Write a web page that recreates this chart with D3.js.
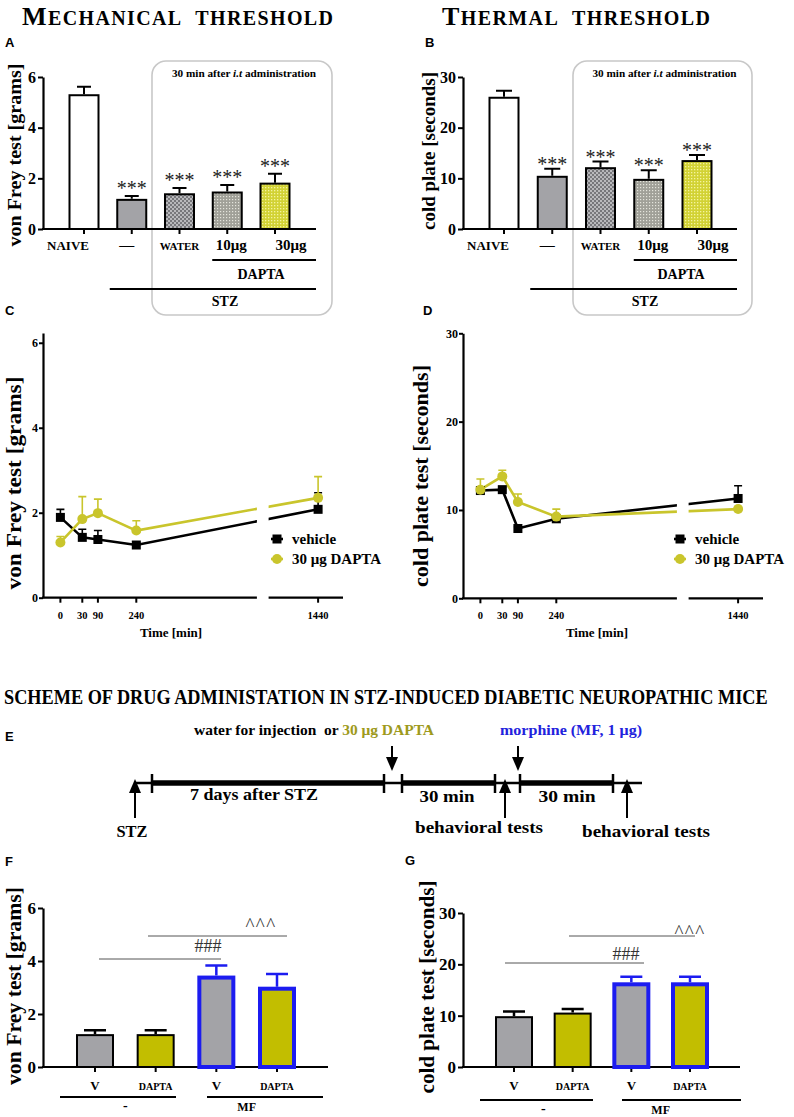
<!DOCTYPE html>
<html><head><meta charset="utf-8">
<script src="https://cdn.jsdelivr.net/npm/d3@7"></script>
<style>body{margin:0;background:#fff}</style>
</head><body>
<script>
// ---------------- DATA ----------------
const catsAB = ["NAIVE", "—", "WATER", "10μg", "30μg"];
const mechMean = [5.32, 1.19, 1.41, 1.48, 1.83];
const mechErr  = [0.30, 0.11, 0.21, 0.26, 0.35];
const thermMean = [26.1, 10.5, 12.2, 9.9, 13.6];
const thermErr  = [1.2, 1.4, 1.1, 1.7, 1.0];
const starsAB = ["", "***", "***", "***", "***"];
const mechTicks = [0, 2, 4, 6];
const thermTicks = [0, 10, 20, 30];

const timePts = [0, 30, 90, 240, 1440];
const timeLabels = ["0", "30", "90", "240", "1440"];
const vfVehicle    = [1.89, 1.42, 1.37, 1.24, 2.08];
const vfVehicleErr = [0.19, 0.19, 0.21, 0.05, 0.39];
const vfDapta      = [1.30, 1.85, 1.99, 1.58, 2.35];
const vfDaptaErr   = [0.14, 0.53, 0.33, 0.23, 0.50];
const cpVehicle    = [12.2, 12.3, 7.9, 9.0, 11.3];
const cpVehicleErr = [0.4, 0.3, 0.2, 0.2, 1.45];
const cpDapta      = [12.3, 13.8, 10.9, 9.25, 10.1];
const cpDaptaErr   = [1.2, 0.7, 0.9, 0.85, 0.3];
const seriesNames = ["vehicle", "30 μg DAPTA"];

const catsFG = ["V", "DAPTA", "V", "DAPTA"];
const groupsFG = ["-", "MF"];
const mfVF    = [1.24, 1.24, 3.45, 3.03];
const mfVFErr = [0.15, 0.15, 0.38, 0.48];
const mfCP    = [9.9, 10.6, 16.5, 16.5];
const mfCPErr = [0.9, 0.7, 1.1, 1.1];

// ---------------- STYLE ----------------
const SERIF = "'Liberation Serif','Times New Roman',serif";
const SANS = "'Liberation Sans',Arial,sans-serif";
const GRAY = "#a3a3a7", OLIVE = "#c2be00", BLUE = "#1c1cf0", YEL = "#c9c52c";
const fmt = d3.format("d");

const svg = d3.select("body").append("svg").attr("width", 794).attr("height", 1117);
const defs = svg.append("defs");
{
  const p1 = defs.append("pattern").attr("id", "pWater").attr("width", 4).attr("height", 4).attr("patternUnits", "userSpaceOnUse");
  p1.append("rect").attr("width", 4).attr("height", 4).attr("fill", "#77777b");
  p1.append("rect").attr("width", 2).attr("height", 2).attr("fill", "#b8b8bb");
  p1.append("rect").attr("x", 2).attr("y", 2).attr("width", 2).attr("height", 2).attr("fill", "#b8b8bb");
  const p2 = defs.append("pattern").attr("id", "p10").attr("width", 3).attr("height", 3).attr("patternUnits", "userSpaceOnUse");
  p2.append("rect").attr("width", 3).attr("height", 3).attr("fill", "#a0a098");
  p2.append("rect").attr("x", 1).attr("y", 1).attr("width", 1.2).attr("height", 1.2).attr("fill", "#e4e4dc");
  const p3 = defs.append("pattern").attr("id", "p30").attr("width", 3).attr("height", 3).attr("patternUnits", "userSpaceOnUse");
  p3.append("rect").attr("width", 3).attr("height", 3).attr("fill", "#d2d234");
  p3.append("rect").attr("x", 1).attr("y", 1).attr("width", 1.3).attr("height", 1.3).attr("fill", "#f4f4a0");
}

function T(x, y, s, o = {}) {
  const t = svg.append("text").attr("x", x).attr("y", y).text(s)
    .attr("font-family", o.ff || SERIF).attr("font-weight", o.fw || "bold")
    .attr("font-size", o.fs || 12).attr("text-anchor", o.anchor || "middle")
    .attr("fill", o.fill || "#000");
  if (o.len) t.attr("textLength", o.len).attr("lengthAdjust", o.adj || "spacingAndGlyphs");
  if (o.ls) t.attr("letter-spacing", o.ls);
  return t;
}
function squeezed(x, y, s, fs, width) {
  const g = svg.append("g");
  const t = g.append("text").attr("x", 0).attr("y", 0).attr("font-family", SERIF).attr("font-weight", "bold")
    .attr("font-size", fs).text(s);
  const w = t.node().getComputedTextLength();
  g.attr("transform", `translate(${x},${y}) scale(${width / w},1)`);
}
function vTitle(cx, cy, s, fs, len) {
  svg.append("text").attr("transform", `translate(${cx + fs * 0.33},${cy}) rotate(-90)`)
    .attr("text-anchor", "middle").attr("font-family", SERIF).attr("font-weight", "bold")
    .attr("font-size", fs).attr("textLength", len).attr("lengthAdjust", "spacingAndGlyphs").text(s);
}
function L(x1, y1, x2, y2, c = "#000", w = 2) {
  return svg.append("line").attr("x1", x1).attr("y1", y1).attr("x2", x2).attr("y2", y2)
    .attr("stroke", c).attr("stroke-width", w);
}
function styleAxis(ax, fs) {
  ax.select(".domain").attr("stroke", "#000").attr("stroke-width", 2.2);
  ax.selectAll(".tick line").attr("stroke", "#000").attr("stroke-width", 2);
  ax.selectAll(".tick text").attr("font-family", SERIF).attr("font-weight", "bold")
    .attr("font-size", fs).attr("fill", "#000");
}
function smallCapsTitle(x, y, words, width) {
  const t = svg.append("text").attr("x", x).attr("y", y).attr("font-family", SERIF).attr("font-weight", "bold")
    .attr("textLength", width).attr("lengthAdjust", "spacing");
  words.forEach((w, k) => {
    if (k === 0) {
      t.append("tspan").attr("font-size", 26).text(w[0]);
      t.append("tspan").attr("font-size", 20).text(w.slice(1).toUpperCase());
    } else {
      t.append("tspan").attr("font-size", 20).text("\u00a0\u00a0" + w.toUpperCase());
    }
  });
}

// ---------------- BAR PANELS ----------------
function barPanel(o) {
  const n = o.mean.length;
  const y = d3.scaleLinear().domain(o.yDom).range([o.y0, o.yTop]);
  const x = d3.scalePoint().domain(d3.range(n)).range(o.centers);
  const g = svg.append("g");
  const ax = g.append("g").attr("transform", `translate(${o.xAxis[0]},0)`)
    .call(d3.axisLeft(y).tickValues(o.ticks).tickFormat(fmt).tickSize(5).tickSizeOuter(0).tickPadding(2));
  styleAxis(ax, o.tickFs);
  g.append("line").attr("x1", o.xAxis[0] - 1).attr("x2", o.xAxis[1]).attr("y1", y(0)).attr("y2", y(0))
    .attr("stroke", "#000").attr("stroke-width", 2.2);
  g.selectAll(null).data(d3.range(n)).join("line")
    .attr("x1", i => x(i)).attr("x2", i => x(i)).attr("y1", y(0)).attr("y2", y(0) + 5)
    .attr("stroke", "#000").attr("stroke-width", 2);
  g.selectAll(null).data(d3.range(n)).join("path")
    .attr("d", i => `M${x(i)},${y(o.mean[i])}V${y(o.mean[i] + o.err[i])}M${x(i) - o.capW / 2},${y(o.mean[i] + o.err[i])}h${o.capW}`)
    .attr("stroke", i => o.strokes[i]).attr("stroke-width", o.errW).attr("fill", "none");
  g.selectAll(null).data(d3.range(n)).join("rect")
    .attr("x", i => x(i) - o.barW / 2 + o.sw[i] / 2).attr("width", i => o.barW - o.sw[i])
    .attr("y", i => y(o.mean[i]) + o.sw[i] / 2).attr("height", i => y(0) - y(o.mean[i]) - o.sw[i] / 2)
    .attr("fill", i => o.fills[i]).attr("stroke", i => o.strokes[i]).attr("stroke-width", i => o.sw[i]);
  if (o.stars) {
    g.selectAll(null).data(d3.range(n)).join("text")
      .attr("x", i => x(i)).attr("y", i => y(o.mean[i] + o.err[i]) + o.starDy)
      .attr("text-anchor", "middle").attr("font-family", SERIF).attr("font-size", 20)
      .attr("fill", "#222").text(i => o.stars[i]);
  }
  return { x, y };
}

function abPanel(o) {
  svg.append("rect").attr("x", o.box[0]).attr("y", 61).attr("width", o.box[1] - o.box[0]).attr("height", 254)
    .attr("rx", 14).attr("fill", "none").attr("stroke", "#c8c8c8").attr("stroke-width", 1.6);
  const t = T((o.box[0] + o.box[1]) / 2 + 2, 77, "30 min after ", { fs: 11, len: 144 });
  t.append("tspan").attr("font-style", "italic").text("i.t");
  t.append("tspan").text(" administration");
  const r = barPanel(o);
  const dx = [-16, -5, 0, 4, 16];
  const fs = [13, 15, 11, 15, 15];
  catsAB.forEach((c, i) => T(r.x(i) + dx[i], 250, c, { fs: fs[i] }));
  L(r.x(3) - 15, 260, o.xAxis[1], 260, "#000", 2);
  T(o.daptaX, 279, "DAPTA", { fs: 14 });
  L(r.x(1) - 22, 289, o.xAxis[1], 289, "#000", 2);
  T(o.stzX, 306, "STZ", { fs: 14 });
}

smallCapsTitle(22, 25, ["Mechanical", "threshold"], 311);
smallCapsTitle(442, 25, ["Thermal", "threshold"], 268);
T(5, 47, "A", { ff: SANS, fs: 13, anchor: "start" });
T(425, 47, "B", { ff: SANS, fs: 13, anchor: "start" });

abPanel({
  mean: mechMean, err: mechErr, yDom: [0, 6], y0: 229, yTop: 77, ticks: mechTicks, tickFs: 16,
  xAxis: [43, 316], centers: [84, 275], barW: 31, capW: 14, errW: 2,
  fills: ["#fff", GRAY, "url(#pWater)", "url(#p10)", "url(#p30)"], strokes: ["#000", "#000", "#000", "#000", "#000"],
  sw: [2, 2, 2, 2, 2], stars: starsAB, starDy: -1, box: [152, 332], daptaX: 261, stzX: 225
});
vTitle(15, 155, "von Frey test [grams]", 19, 183);

abPanel({
  mean: thermMean, err: thermErr, yDom: [0, 30], y0: 229, yTop: 77, ticks: thermTicks, tickFs: 16,
  xAxis: [463, 737], centers: [504, 697], barW: 31, capW: 16, errW: 2,
  fills: ["#fff", GRAY, "url(#pWater)", "url(#p10)", "url(#p30)"], strokes: ["#000", "#000", "#000", "#000", "#000"],
  sw: [2, 2, 2, 2, 2], stars: starsAB, starDy: 2, box: [573, 752], daptaX: 681, stzX: 645
});
vTitle(429, 151, "cold plate [seconds]", 19, 158);

// ---------------- TIME PANELS (C, D) ----------------
const timeFrac = [0.058, 0.131, 0.183, 0.311, 0.917];
function timePanel(o) {
  const xs = d3.scaleLinear().domain(timePts).range(timeFrac.map(f => o.x0 + f * o.w));
  const y = d3.scaleLinear().domain(o.yDom).range([o.y0, o.yTop]);
  const brk = [o.x0 + 0.713 * o.w, o.x0 + 0.752 * o.w];
  const ax = svg.append("g").attr("transform", `translate(${o.x0},0)`)
    .call(d3.axisLeft(y).tickValues(o.ticks).tickFormat(fmt).tickSize(4).tickSizeOuter(0).tickPadding(1));
  styleAxis(ax, 12);
  L(o.x0 - 1, o.y0, brk[0], o.y0, "#000", 2.2);
  L(brk[1], o.y0, o.x0 + o.w, o.y0, "#000", 2.2);
  timePts.forEach((t, i) => {
    L(xs(t), o.y0, xs(t), o.y0 + 5, "#000", 2);
    T(xs(t), o.y0 + 21, timeLabels[i], { fs: 10.5 });
  });
  T(o.timeX, o.y0 + 39, "Time [min]", { fs: 13 });
  const cid = "clip" + o.id;
  const cp = defs.append("clipPath").attr("id", cid);
  cp.append("rect").attr("x", o.x0).attr("y", o.yTop - 40).attr("width", brk[0] - o.x0).attr("height", o.y0 - o.yTop + 40);
  cp.append("rect").attr("x", brk[1]).attr("y", o.yTop - 40).attr("width", o.x0 + o.w - brk[1]).attr("height", o.y0 - o.yTop + 40);
  const line = d3.line().x((d, i) => xs(timePts[i])).y(d => y(d));
  const series = [
    { m: o.veh, e: o.vehErr, c: "#000" },
    { m: o.dap, e: o.dapErr, c: YEL }
  ];
  series.forEach(s => {
    svg.append("path").datum(s.m).attr("d", line).attr("fill", "none").attr("stroke", s.c)
      .attr("stroke-width", 2.6).attr("clip-path", `url(#${cid})`);
    svg.selectAll(null).data(s.m).join("path")
      .attr("d", (d, i) => `M${xs(timePts[i])},${y(d)}V${y(d + s.e[i])}M${xs(timePts[i]) - 4},${y(d + s.e[i])}h8`)
      .attr("stroke", s.c).attr("stroke-width", 1.6).attr("fill", "none");
  });
  svg.selectAll(null).data(o.veh).join("rect")
    .attr("x", (d, i) => xs(timePts[i]) - 4.5).attr("y", d => y(d) - 4.5).attr("width", 9).attr("height", 9).attr("fill", "#000");
  svg.selectAll(null).data(o.dap).join("circle")
    .attr("cx", (d, i) => xs(timePts[i])).attr("cy", d => y(d)).attr("r", 5).attr("fill", YEL);
  const lx = o.legX;
  L(lx - 6, 539, lx + 6, 539, "#000", 2.6);
  svg.append("rect").attr("x", lx - 4.5).attr("y", 534.5).attr("width", 9).attr("height", 9).attr("fill", "#000");
  T(lx + 15, 544, seriesNames[0], { fs: 15, anchor: "start" });
  L(lx - 6, 559, lx + 6, 559, YEL, 2.6);
  svg.append("circle").attr("cx", lx).attr("cy", 559).attr("r", 5).attr("fill", YEL);
  T(lx + 15, 564, seriesNames[1], { fs: 15, anchor: "start" });
}

T(5, 315, "C", { ff: SANS, fs: 13, anchor: "start" });
T(423, 315, "D", { ff: SANS, fs: 13, anchor: "start" });
timePanel({ id: "C", x0: 43, w: 300, y0: 597.7, yTop: 333, yDom: [0, 6.23], ticks: mechTicks,
  veh: vfVehicle, vehErr: vfVehicleErr, dap: vfDapta, dapErr: vfDaptaErr, timeX: 171, legX: 277 });
vTitle(14, 483, "von Frey test [grams]", 21, 213);
timePanel({ id: "D", x0: 463, w: 300, y0: 598.3, yTop: 333.3, yDom: [0, 30], ticks: thermTicks,
  veh: cpVehicle, vehErr: cpVehicleErr, dap: cpDapta, dapErr: cpDaptaErr, timeX: 597, legX: 680 });
vTitle(421, 476, "cold plate test [seconds]", 21, 222);

// ---------------- SCHEME E ----------------
squeezed(4, 704, "SCHEME OF DRUG ADMINISTATION IN STZ-INDUCED DIABETIC NEUROPATHIC MICE", 20, 764);
T(5, 741, "E", { ff: SANS, fs: 13, anchor: "start" });
{
  const t1 = T(194, 735, "water for injection\u00a0\u00a0or ", { fs: 15, anchor: "start", len: 240 });
  t1.append("tspan").attr("fill", "#9e9a1c").text("30 μg DAPTA");
  T(500, 735, "morphine (MF, 1 μg)", { fs: 15, anchor: "start", fill: "#2222dd", len: 142 });
  const ty = 783;
  L(135, ty, 642, ty, "#000", 2.5);
  [[152, 384], [402, 495], [520, 613]].forEach(s => L(s[0], ty, s[1], ty, "#000", 5.5));
  [152, 384, 402, 495, 520, 613].forEach(x => L(x, ty - 9, x, ty + 10, "#000", 2.5));
  function upArrow(x) {
    svg.append("path").attr("d", `M${x},${ty - 4}l-6,14h12z`).attr("fill", "#000");
    L(x, ty + 8, x, 818, "#000", 2);
  }
  function downArrow(x) {
    svg.append("path").attr("d", `M${x},${ty - 12}l-6,-14h12z`).attr("fill", "#000");
    L(x, 746, x, ty - 24, "#000", 2);
  }
  [135, 505, 627].forEach(upArrow);
  [392, 518].forEach(downArrow);
  T(254, 800, "7 days after STZ", { fs: 17, len: 128 });
  T(447, 802, "30 min", { fs: 17, len: 55 });
  T(567, 802, "30 min", { fs: 17, len: 57 });
  T(132, 837, "STZ", { fs: 17, len: 31 });
  T(479, 833, "behavioral tests", { fs: 17, len: 128 });
  T(646, 837, "behavioral tests", { fs: 17, len: 128 });
}

// ---------------- PANELS F & G ----------------
function fgPanel(o) {
  const r = barPanel(o);
  catsFG.forEach((c, i) => T(r.x(i), 1090, c, { fs: c === "V" ? 13 : 10 }));
  L(o.g1[0], o.gy, o.g1[1], o.gy, "#000", 2);
  L(o.g2[0], o.gy, o.g2[1], o.gy, "#000", 2);
  T((r.x(0) + r.x(1)) / 2, o.gy + 13, groupsFG[0], { fs: 14 });
  T((r.x(2) + r.x(3)) / 2, o.gy + 14, groupsFG[1], { fs: 12 });
  L(o.s1[0], o.s1y, o.s1[1], o.s1y, "#555", 1);
  T(o.hashX, o.s1y + o.hashDy, "###", { fs: 18, fw: "normal", fill: "#333" });
  L(o.s2[0], o.s2y, o.s2[1], o.s2y, "#555", 1);
  T(o.caretX, o.s2y + o.caretDy, "^^^", { fs: 19, fw: "normal", fill: "#333", ls: 1.5 });
}
T(5, 866, "F", { ff: SANS, fs: 13, anchor: "start" });
T(405, 865, "G", { ff: SANS, fs: 13, anchor: "start" });
fgPanel({
  mean: mfVF, err: mfVFErr, yDom: [0, 6], y0: 1067, yTop: 908, ticks: mechTicks, tickFs: 17,
  xAxis: [43, 328], centers: [95, 277], barW: 38, capW: 22, errW: 2.5,
  fills: [GRAY, OLIVE, GRAY, OLIVE], strokes: ["#000", "#000", BLUE, BLUE], sw: [2, 2, 4, 4],
  g1: [60, 176], g2: [207, 323], gy: 1097, s1: [99, 221], s1y: 959, s2: [148, 287], s2y: 936,
  hashX: 208, hashDy: -7, caretX: 261, caretDy: -5
});
vTitle(14, 986, "von Frey test [grams]", 20, 198);
fgPanel({
  mean: mfCP, err: mfCPErr, yDom: [0, 30], y0: 1067, yTop: 913, ticks: thermTicks, tickFs: 17,
  xAxis: [463, 740], centers: [514, 690], barW: 38, capW: 22, errW: 2.5,
  fills: [GRAY, OLIVE, GRAY, OLIVE], strokes: ["#000", "#000", BLUE, BLUE], sw: [2, 2, 4, 4],
  g1: [480, 593], g2: [622, 741], gy: 1100, s1: [505, 644], s1y: 963, s2: [569, 695], s2y: 936,
  hashX: 626, hashDy: -3, caretX: 690, caretDy: 2
});
vTitle(427, 987, "cold plate test [seconds]", 20, 213);
</script>
</body></html>
